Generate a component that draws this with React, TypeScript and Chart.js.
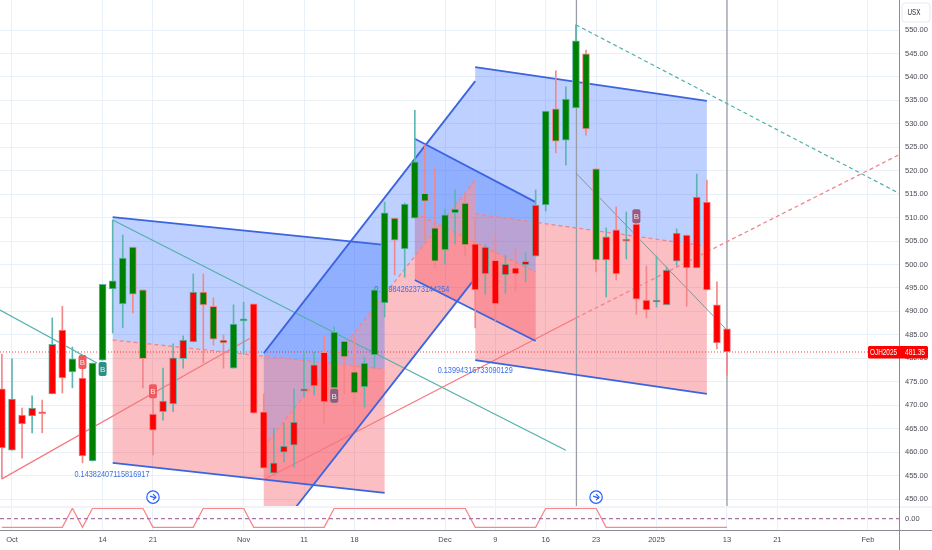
import { useEffect, useRef } from 'react';
import { Chart, registerables } from 'chart.js';

Chart.register(...registerables);

const GREEN = '#008000';
const RED = '#ff0000';
const UP_EDGE = '#5fb6b0';
const DOWN_EDGE = '#f4878a';
const BLUE_LINE = '#3a64e0';
const BLUE_FILL = 'rgba(41,98,255,0.3)';
const RED_FILL = 'rgba(242,54,69,0.32)';
const PANE_FONT = '"Liberation Sans", sans-serif';

// ── candles (first one is clipped by the left edge) ──
const barIndex = [
    -1, 0, 1, 2, 3, 4, 5, 6, 7, 8, 9, 10, 11, 12, 13, 14, 15, 16, 17, 18, 19, 20, 21, 22, 23, 24, 25, 26, 27, 28, 29, 30, 31, 32, 33, 34, 35,
    36, 37, 38, 39, 40, 41, 42, 43, 44, 45, 46, 47, 48, 49, 50, 51, 52, 53, 54, 55, 56, 57, 58, 59, 60, 61, 62, 63, 64, 65, 66, 67, 68, 69, 70, 71,
];
const opens = [
    473.5, 460.4, 467.9, 467.7, 468.6, 472.4, 486.0, 477.1, 475.8, 458.1, 479.6, 494.8, 491.6, 503.7, 494.6, 468.1, 468.6, 470.3, 479.9, 483.5,
    494.1, 491.1, 483.9, 477.9, 488.0, 491.6, 468.6, 455.5, 460.0, 461.5, 473.0, 474.1, 481.3, 473.7, 483.7, 477.1, 473.9,
    480.7, 491.8, 509.9, 503.3, 509.9, 515.2, 507.8, 503.1, 511.0, 513.1, 504.4, 498.0, 500.9, 497.8, 499.3, 499.9, 501.8, 512.7, 533.2, 526.5,
    533.4, 544.9, 520.4, 501.0, 507.4, 505.0, 508.6, 492.4, 492.0, 491.4, 500.7, 506.3, 499.3, 513.3, 491.4, 486.3,
];
const highs = [
    480.9, 479.9, 469.4, 472.0, 471.1, 488.6, 491.1, 482.4, 479.6, 479.0, 495.8, 509.5, 506.3, 503.7, 494.6, 471.5, 477.9, 483.1, 484.8, 498.0,
    498.0, 492.9, 485.0, 491.4, 492.0, 491.6, 472.4, 465.1, 466.2, 473.5, 481.3, 481.3, 484.8, 486.7, 483.7, 484.3, 480.3,
    495.0, 513.3, 509.9, 513.1, 532.9, 525.5, 520.6, 511.8, 515.9, 515.0, 510.1, 504.2, 506.3, 502.0, 503.3, 502.5, 515.9, 532.7, 541.3, 537.9,
    551.1, 545.7, 520.4, 507.8, 512.3, 511.2, 509.5, 499.7, 501.8, 499.5, 507.6, 506.3, 519.3, 518.0, 496.3, 486.3,
];
const lows = [
    454.3, 460.4, 458.7, 464.1, 464.1, 472.4, 472.6, 473.7, 457.7, 458.1, 479.6, 485.4, 486.5, 489.7, 473.7, 459.4, 466.8, 468.6, 477.9, 483.5,
    479.0, 482.8, 477.9, 477.9, 480.9, 468.3, 456.6, 455.5, 457.9, 456.8, 471.8, 472.2, 466.2, 473.7, 472.4, 470.3, 469.6,
    477.9, 488.8, 497.8, 497.3, 509.9, 505.2, 499.3, 500.1, 504.4, 501.8, 486.5, 493.7, 488.0, 493.9, 494.3, 496.3, 501.8, 511.4, 523.8, 521.2,
    533.4, 527.6, 498.4, 493.1, 496.7, 501.2, 489.4, 488.6, 490.9, 491.4, 499.7, 491.1, 499.3, 494.6, 482.0, 476.4,
];
const closes = [
    460.9, 471.3, 466.0, 469.4, 468.2, 483.0, 475.8, 479.9, 459.2, 479.0, 495.8, 496.5, 501.4, 493.7, 479.9, 464.7, 470.9, 480.1, 483.9, 494.1,
    491.4, 484.1, 483.3, 487.3, 488.4, 468.3, 456.6, 457.7, 461.3, 466.4, 473.5, 478.6, 470.7, 485.6, 480.3, 472.6, 479.0,
    494.6, 511.0, 505.2, 512.9, 521.9, 513.5, 500.7, 510.6, 511.8, 504.2, 494.6, 503.7, 491.6, 500.1, 498.0, 500.7, 512.7, 532.7, 526.3, 535.3,
    547.7, 528.9, 501.0, 505.9, 498.0, 505.4, 492.6, 490.3, 492.4, 498.8, 506.7, 499.3, 514.4, 494.6, 483.3, 481.35,
];
// body colour comes from the oscillator: 1 green, -0.83 red
const oscValues = [
    -0.83, -0.83, -0.83, -0.83, -0.83, -0.83, -0.83, 1, -0.83, 1, 1, 1, 1, 1, 1, -0.83, -0.83, -0.83, -0.83, -0.83, 1, 1, 1, 1, 1, -0.83, -0.83, -0.83, -0.83, -0.83, -0.83, -0.83, -0.83, 1, 1, 1, 1,
    1, 1, 1, 1, 1, 1, 1, 1, 1, 1, -0.83, -0.83, -0.83, -0.83, -0.83, -0.83, -0.83, 1, 1, 1, 1, 1, 1, -0.83, -0.83, -0.83, -0.83, -0.83, -0.83, -0.83, -0.83, -0.83, -0.83, -0.83, -0.83, -0.83,
];

const lastPrice = 481.35;
const lastSymbol = 'OJH2025';
const unitLabel = 'USX';

const xTickIndex = [0, 9, 14, 23, 29, 34, 43, 48, 53, 58, 64, 71, 76, 85];
const xTickLabels = ['Oct', '14', '21', 'Nov', '11', '18', 'Dec', '9', '16', '23', '2025', '13', '21', 'Feb'];
const priceTicks = [550, 545, 540, 535, 530, 525, 520, 515, 510, 505, 500, 495, 490, 485, 480, 475, 470, 465, 460, 455, 450];

const X_MIN = -1.19;
const X_MAX = 88.08;
const P_MIN = 448.3;
const P_MAX = 556.4;

// ── drawing tools: [bar index, price] ──
type Pt = [number, number];
const toolABlue: Pt[] = [[10, 510.1], [37, 504.2], [37, 477.7], [10, 483.9]];
const toolARed: Pt[] = [[10, 483.9], [37, 477.7], [37, 451.3], [10, 457.7]];
const toolBBlue: Pt[] = [[25, 481.1], [46, 539.1], [46, 518.0], [25, 461.1]];
const toolBRed: Pt[] = [[25, 461.1], [46, 518.0], [46, 497.1], [28.2, 448.3], [25, 448.3]];
const toolCBlue: Pt[] = [[40, 526.8], [52, 513.3], [52, 498.4], [40, 511.0]];
const toolCRed: Pt[] = [[40, 511.0], [52, 498.4], [52, 483.7], [40, 496.7]];
const toolDBlue: Pt[] = [[46, 542.1], [69, 534.9], [69, 503.9], [46, 510.8]];
const toolDRed: Pt[] = [[46, 510.8], [69, 503.9], [69, 472.4], [46, 479.6]];

const blueLines: Pt[][] = [
    [[10, 510.1], [37, 504.2]],
    [[10, 457.7], [37, 451.3]],
    [[25, 481.1], [46, 539.1]],
    [[28.2, 448.3], [46, 497.1]],
    [[40, 526.8], [52, 513.3]],
    [[40, 496.7], [52, 483.7]],
    [[46, 542.1], [69, 534.9]],
    [[46, 479.6], [69, 472.4]],
];
const dashedRedLines: Pt[][] = [
    [[10, 483.9], [37, 477.7]],
    [[25, 461.1], [46, 518.0]],
    [[40, 511.0], [52, 498.4]],
    [[46, 510.8], [69, 503.9]],
    [[56, 488.6], [88.08, 523.4]],
];
const solidRedLines: Pt[][] = [
    [[-1, 454.3], [24, 484.7]],
    [[25, 454.1], [56, 488.6]],
];
const solidTealLines: Pt[][] = [
    [[-1.19, 490.3], [8.44, 479.0]],
    [[10, 509.5], [55, 460.4]],
];
const dashedTealLine: Pt[] = [[56, 551.1], [88.08, 515.2]];
const grayLine: Pt[] = [[56, 519.5], [71, 486.0]];
const cursorLines: Pt[][] = [
    [[56.05, P_MAX], [56.05, P_MIN]],
    [[71, P_MAX], [71, P_MIN]],
];

const toolTexts: { x: number; y: number; text: string }[] = [
    { x: 9.93, y: 455.3, text: '0.14382407115816917' },
    { x: 39.7, y: 494.6, text: '0.14984262373144254' },
    { x: 46, y: 477.5, text: '0.13994316733090129' },
];
const signalMarks: { x: number; y: number; color: string }[] = [
    { x: 7, y: 479.2, color: '#ef5a5f' },
    { x: 9, y: 477.7, color: '#2f8f85' },
    { x: 14, y: 473.0, color: '#ef5a5f' },
    { x: 32, y: 472.0, color: '#85607f' },
    { x: 62, y: 510.3, color: '#995a80' },
];
const replayMarks: Pt[] = [[14, 450.4], [58, 450.4]];

const toXY = (pts: Pt[]) => pts.map(([x, y]) => ({ x, y }));

function shapeSet(pts: Pt[], color: string) {
    return {
        type: 'line' as const,
        data: toXY(pts),
        backgroundColor: color,
        borderWidth: 0,
        pointRadius: 0,
        fill: 'shape',
        order: 10,
    };
}

function lineSet(pts: Pt[], color: string, width: number, dash: number[] = [], axis = 'y') {
    return {
        type: 'line' as const,
        data: toXY(pts),
        borderColor: color,
        borderWidth: width,
        borderDash: dash,
        pointRadius: 0,
        fill: false,
        yAxisID: axis,
        order: 5,
    };
}

const overlayPlugin = {
    id: 'overlay',
    beforeDatasetDraw(chart: any, args: any) {
        // tool values sit under the candles, on top of the fills
        if (args.meta.label !== 'wicks') return;
        const { ctx, scales } = chart;
        ctx.save();
        ctx.font = `9px ${PANE_FONT}`;
        ctx.fillStyle = '#3f6fe6';
        ctx.textAlign = 'center';
        ctx.textBaseline = 'middle';
        toolTexts.forEach((t) => ctx.fillText(t.text, scales.x.getPixelForValue(t.x), scales.y.getPixelForValue(t.y), 75));
        ctx.restore();
    },
    afterDatasetsDraw(chart: any) {
        const { ctx, scales, chartArea, width, height } = chart;
        ctx.save();

        // B markers
        signalMarks.forEach((m) => {
            const px = scales.x.getPixelForValue(m.x);
            const py = scales.y.getPixelForValue(m.y);
            ctx.fillStyle = m.color;
            ctx.beginPath();
            ctx.roundRect(px - 4, py - 7, 8, 14, 2);
            ctx.fill();
            ctx.fillStyle = 'rgba(255,255,255,0.85)';
            ctx.font = `8px ${PANE_FONT}`;
            ctx.textAlign = 'center';
            ctx.textBaseline = 'middle';
            ctx.fillText('B', px, py + 0.5);
        });

        // replay icons
        replayMarks.forEach(([x, y]) => {
            const px = scales.x.getPixelForValue(x);
            const py = scales.y.getPixelForValue(y);
            ctx.strokeStyle = '#2962ff';
            ctx.lineWidth = 1.2;
            ctx.fillStyle = '#ffffff';
            ctx.beginPath();
            ctx.arc(px, py, 6.2, 0, Math.PI * 2);
            ctx.fill();
            ctx.stroke();
            ctx.beginPath();
            ctx.moveTo(px - 3, py - 1);
            ctx.lineTo(px + 3, py + 1);
            ctx.moveTo(px, py - 3);
            ctx.lineTo(px + 3, py);
            ctx.lineTo(px, py + 3);
            ctx.stroke();
        });

        // pane separator and axis frame
        const sepY = scales.y.bottom;
        ctx.strokeStyle = '#f0f3fa';
        ctx.lineWidth = 2;
        ctx.beginPath();
        ctx.moveTo(0, sepY);
        ctx.lineTo(width, sepY);
        ctx.stroke();
        ctx.strokeStyle = '#8a8c94';
        ctx.lineWidth = 1;
        ctx.beginPath();
        ctx.moveTo(chartArea.right + 0.5, 0);
        ctx.lineTo(chartArea.right + 0.5, height);
        ctx.moveTo(0, chartArea.bottom + 0.5);
        ctx.lineTo(width, chartArea.bottom + 0.5);
        ctx.stroke();

        // osc label
        ctx.fillStyle = '#4a4a55';
        ctx.font = `7.5px ${PANE_FONT}`;
        ctx.textAlign = 'left';
        ctx.textBaseline = 'middle';
        ctx.fillText('0.00', chartArea.right + 6, scales.y2.getPixelForValue(0));

        // last price tag
        const tagY = scales.y.getPixelForValue(lastPrice);
        ctx.fillStyle = RED;
        ctx.beginPath();
        ctx.roundRect(chartArea.right - 31, tagY - 6, 60, 12.5, 1.5);
        ctx.fill();
        ctx.fillStyle = '#ffffff';
        ctx.font = `8.5px ${PANE_FONT}`;
        ctx.textAlign = 'center';
        ctx.fillText(lastSymbol, chartArea.right - 15.5, tagY + 0.5, 27);
        ctx.fillText(lastPrice.toFixed(2), chartArea.right + 16, tagY + 0.5, 20);

        // currency box
        ctx.fillStyle = '#ffffff';
        ctx.strokeStyle = '#e6e9f0';
        ctx.beginPath();
        ctx.roundRect(chartArea.right + 3, 3, 28, 19, 3);
        ctx.fill();
        ctx.stroke();
        ctx.fillStyle = '#2a2e39';
        ctx.font = `9px ${PANE_FONT}`;
        ctx.fillText(unitLabel, chartArea.right + 15, 13, 13);

        ctx.restore();
    },
};

const noPadding = (s: any) => {
    s.paddingLeft = 0;
    s.paddingRight = 0;
    s.paddingTop = 0;
    s.paddingBottom = 0;
};

export default function App() {
    const canvasRef = useRef<HTMLCanvasElement>(null);

    useEffect(() => {
        document.body.style.margin = '0';
        if (!canvasRef.current) return;

        const isUp = barIndex.map((_, i) => closes[i] >= opens[i]);
        const edges = isUp.map((u) => (u ? UP_EDGE : DOWN_EDGE));

        const chart = new Chart(canvasRef.current, {
            type: 'bar',
            plugins: [overlayPlugin],
            data: {
                datasets: [
                    shapeSet(toolABlue, BLUE_FILL),
                    shapeSet(toolARed, RED_FILL),
                    shapeSet(toolBBlue, BLUE_FILL),
                    shapeSet(toolBRed, RED_FILL),
                    shapeSet(toolCBlue, BLUE_FILL),
                    shapeSet(toolCRed, RED_FILL),
                    shapeSet(toolDBlue, BLUE_FILL),
                    shapeSet(toolDRed, RED_FILL),
                    ...blueLines.map((l) => lineSet(l, BLUE_LINE, 1.8)),
                    ...dashedRedLines.map((l) => lineSet(l, '#f0858b', 1.3, [4, 3])),
                    ...solidRedLines.map((l) => lineSet(l, '#f4787e', 1.2)),
                    ...solidTealLines.map((l) => lineSet(l, '#54b0a9', 1.2)),
                    lineSet(dashedTealLine, '#4fb0ac', 1.2, [4, 3]),
                    lineSet(grayLine, '#8d8f96', 1),
                    ...cursorLines.map((l) => lineSet(l, '#9b9da5', 1.3)),
                    lineSet([[X_MIN, lastPrice], [X_MAX, lastPrice]], 'rgba(255,0,0,0.75)', 1, [1, 2]),
                    lineSet([[X_MIN, 0], [X_MAX, 0]], '#a873a8', 1.2, [4, 3], 'y2'),
                    lineSet(barIndex.map((x, i) => [x, oscValues[i]] as Pt), '#f8868a', 1.3, [], 'y2'),
                    {
                        type: 'bar' as const,
                        label: 'wicks',
                        data: barIndex.map((x, i) => ({ x, y: [lows[i], highs[i]] })),
                        backgroundColor: edges,
                        borderWidth: 0,
                        barThickness: 1,
                        grouped: false,
                        order: 2,
                    },
                    {
                        type: 'bar' as const,
                        label: 'bodies',
                        data: barIndex.map((x, i) => ({ x, y: [Math.min(opens[i], closes[i]), Math.max(opens[i], closes[i])] })),
                        backgroundColor: oscValues.map((v) => (v > 0 ? GREEN : RED)),
                        borderColor: edges,
                        borderWidth: 1,
                        borderSkipped: false,
                        barThickness: 7,
                        grouped: false,
                        order: 1,
                    },
                ] as any,
            },
            options: {
                animation: false,
                responsive: false,
                layout: { padding: 0 },
                plugins: { legend: { display: false }, tooltip: { enabled: false } },
                scales: {
                    x: {
                        type: 'linear',
                        offset: false,
                        min: X_MIN,
                        max: X_MAX,
                        afterBuildTicks: (s: any) => {
                            s.ticks = xTickIndex.map((value) => ({ value }));
                        },
                        afterFit: (s: any) => {
                            s.height = 20;
                            noPadding(s);
                        },
                        ticks: {
                            autoSkip: false,
                            maxRotation: 0,
                            padding: 5,
                            color: '#4a4a55',
                            font: { size: 7.5, family: PANE_FONT },
                            callback: (v: any) => xTickLabels[xTickIndex.indexOf(Number(v))] ?? '',
                        },
                        grid: { color: '#eaf0f7', drawTicks: false, offset: false },
                        border: { display: false },
                    },
                    y: {
                        type: 'linear',
                        position: 'right',
                        stack: 'panes',
                        stackWeight: 507,
                        min: P_MIN,
                        max: P_MAX,
                        afterBuildTicks: (s: any) => {
                            s.ticks = priceTicks.map((value) => ({ value }));
                        },
                        afterFit: (s: any) => {
                            s.width = 33;
                            noPadding(s);
                        },
                        ticks: {
                            autoSkip: false,
                            padding: 6,
                            color: '#4a4a55',
                            font: { size: 7.5, family: PANE_FONT },
                            callback: (v: any) => Number(v).toFixed(2),
                        },
                        grid: { color: '#eaf0f7', drawTicks: false },
                        border: { display: false },
                    },
                    y2: {
                        type: 'linear',
                        position: 'right',
                        stack: 'panes',
                        stackWeight: 23,
                        min: -1.09,
                        max: 1.125,
                        afterFit: (s: any) => {
                            s.width = 33;
                            noPadding(s);
                        },
                        ticks: { display: false },
                        grid: { display: false },
                        border: { display: false },
                    },
                },
            } as any,
        });

        return () => chart.destroy();
    }, []);

    return (
        <div style={{ width: 932, height: 550 }}>
            <canvas ref={canvasRef} width={932} height={550} style={{ display: 'block' }} />
        </div>
    );
}
